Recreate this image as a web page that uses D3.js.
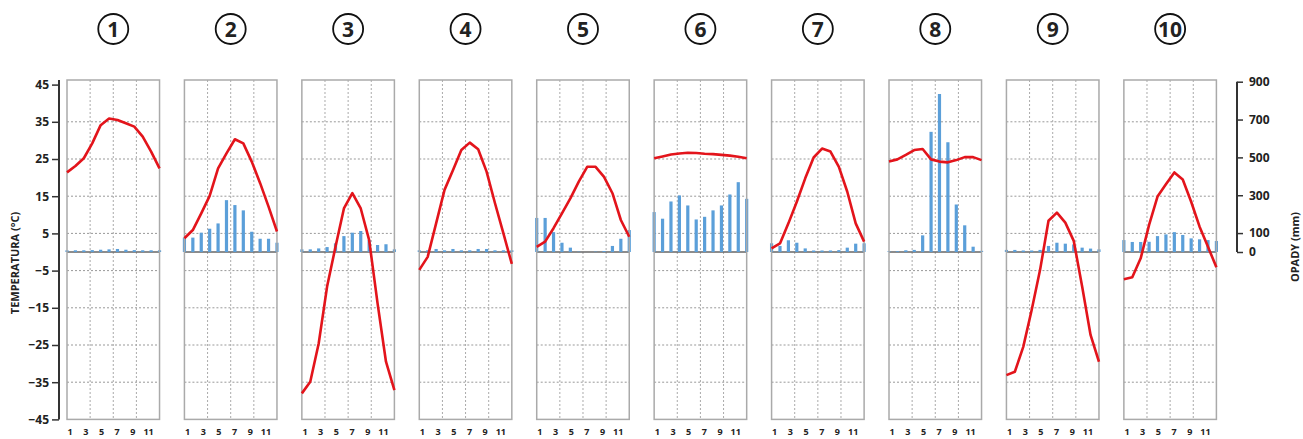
<!DOCTYPE html>
<meta charset="utf-8">
<style>
  body { margin: 0; background: #fff; }
  text { font-family: "Open Sans", "DejaVu Sans", sans-serif; font-weight: 700; fill: #222; }
</style>
<svg width="1303" height="439"></svg>
<script src="https://d3js.org/d3.v7.min.js"></script>
<script>
// climate charts, 10 stations
const panels = ["1","2","3","4","5","6","7","8","9","10"];
const months = [1,2,3,4,5,6,7,8,9,10,11,12];
const monthTicks = [1,3,5,7,9,11];
const tempTicks = [45,35,25,15,5,-5,-15,-25,-35,-45];
const precipTicks = [900,700,500,300,100,0];

// monthly mean temperature (°C)
const temperature = [
  [21.4, 23.1, 25.2, 29.2, 34.1, 35.9, 35.5, 34.6, 33.7, 31.0, 27.0, 22.5],
  [3.7, 5.9, 10.4, 15.1, 22.5, 26.5, 30.3, 29.2, 24.3, 18.5, 12.2, 5.5],
  [-38.0, -34.9, -24.6, -9.3, 1.4, 11.7, 15.8, 11.7, 3.2, -13.8, -29.5, -37.1],
  [-4.8, -1.3, 7.7, 16.7, 22.0, 27.4, 29.4, 27.6, 21.6, 13.1, 5.0, -3.2],
  [1.4, 2.8, 6.4, 10.4, 14.4, 18.9, 22.9, 22.9, 20.2, 15.8, 8.6, 4.1],
  [25.2, 25.7, 26.2, 26.5, 26.7, 26.6, 26.4, 26.3, 26.1, 25.9, 25.6, 25.2],
  [1.0, 2.3, 7.7, 13.5, 19.8, 25.4, 27.8, 27.0, 22.9, 16.2, 7.7, 2.8],
  [24.3, 24.9, 26.1, 27.4, 27.7, 24.9, 24.3, 24.1, 24.7, 25.5, 25.5, 24.7],
  [-33.1, -32.2, -25.5, -15.6, -4.8, 8.4, 10.6, 7.9, 3.0, -9.3, -22.3, -29.5],
  [-7.3, -6.8, -1.7, 7.3, 14.9, 18.2, 21.4, 19.5, 13.5, 6.8, 1.4, -4.1]
];

// monthly precipitation (mm)
const precipitation = [
  [9, 9, 9, 10, 12, 14, 16, 12, 10, 9, 9, 9],
  [76, 76, 102, 123, 151, 274, 248, 220, 107, 70, 70, 49],
  [14, 14, 19, 26, 46, 84, 102, 111, 63, 37, 41, 14],
  [9, 9, 16, 9, 16, 9, 9, 16, 16, 9, 9, 9],
  [180, 180, 105, 49, 23, 2, 0, 2, 5, 32, 70, 116],
  [211, 176, 267, 299, 246, 172, 186, 220, 246, 304, 369, 281],
  [46, 32, 62, 49, 19, 8, 8, 8, 10, 23, 44, 46],
  [4, 4, 9, 11, 88, 635, 835, 580, 251, 141, 28, 6],
  [11, 11, 8, 8, 11, 32, 49, 44, 40, 23, 18, 14],
  [63, 53, 53, 54, 84, 93, 105, 90, 72, 67, 63, 58]
];

var svg = d3.select("svg");
var top0 = 80, bottom0 = 419.4;

var panelX = d3.scaleBand().domain(panels).range([67, 1216.4]).paddingInner(0.212).paddingOuter(0);
var bw = panelX.bandwidth();

var yT = d3.scaleLinear().domain([-45, 45]).range([419.4, 84.6]);
var yP = d3.scaleLinear().domain([0, 900]).range([yT(0), 81.7]);

var xData = d3.scalePoint().domain(months).range([0, bw]);
var xLabel = d3.scalePoint().domain(months).range([0, bw]).padding(0.4);

// left axis
var leftAxis = svg.append("g")
    .attr("transform", "translate(59,0)")
    .call(d3.axisLeft(yT).tickValues(tempTicks).tickSize(7).tickPadding(3));
leftAxis.select(".domain").attr("stroke", "#333").attr("stroke-width", 2).attr("d", "M0," + top0 + "V" + bottom0);
leftAxis.selectAll(".tick line").attr("stroke", "#333").attr("stroke-width", 1.5);
leftAxis.selectAll("text").style("font-size", "12px").attr("fill", "#222");

svg.append("text")
    .attr("transform", "translate(19,263) rotate(-90)")
    .attr("text-anchor", "middle")
    .style("font-size", "11px")
    .text("TEMPERATURA (°C)");

// right axis
var rightAxis = svg.append("g")
    .attr("transform", "translate(1237,0)")
    .call(d3.axisRight(yP).tickValues(precipTicks).tickSize(6).tickPadding(6));
rightAxis.select(".domain").attr("stroke", "#333").attr("stroke-width", 2).attr("d", "M0," + yP(900) + "V" + yP(0));
rightAxis.selectAll(".tick line").attr("stroke", "#333").attr("stroke-width", 1.5);
rightAxis.selectAll("text").style("font-size", "12px").attr("fill", "#222");

svg.append("text")
    .attr("transform", "translate(1299,247) rotate(-90)")
    .attr("text-anchor", "middle")
    .style("font-size", "11px")
    .text("OPADY (mm)");

var line = d3.line()
    .x(function(d, i) { return xData(months[i]); })
    .y(function(d) { return yT(d); });

panels.forEach(function(p, k) {
  var g = svg.append("g").attr("transform", "translate(" + panelX(p) + ",0)");

  // title
  g.append("circle")
      .attr("cx", bw / 2).attr("cy", 29).attr("r", 15)
      .attr("fill", "none").attr("stroke", "#111").attr("stroke-width", 1.8);
  g.append("text")
      .attr("x", bw / 2).attr("y", 36.5)
      .attr("text-anchor", "middle")
      .style("font-size", "21px")
      .attr("fill", "#111")
      .text(p);

  // grid
  g.selectAll(".hg").data(tempTicks.filter(function(t) { return t > -45 && t < 45; }))
    .enter().append("line")
      .attr("x1", 0).attr("x2", bw)
      .attr("y1", function(d) { return yT(d); }).attr("y2", function(d) { return yT(d); })
      .attr("stroke", "#999").attr("stroke-width", 1).attr("stroke-dasharray", "2,2");
  g.selectAll(".vg").data([0.25, 0.5, 0.75])
    .enter().append("line")
      .attr("x1", function(d) { return d * bw; }).attr("x2", function(d) { return d * bw; })
      .attr("y1", top0).attr("y2", bottom0)
      .attr("stroke", "#aaa").attr("stroke-width", 1).attr("stroke-dasharray", "2,2");

  // zero line
  g.append("line")
      .attr("x1", 0).attr("x2", bw)
      .attr("y1", yT(0)).attr("y2", yT(0))
      .attr("stroke", "#666").attr("stroke-width", 1.5);

  // precipitation bars
  g.selectAll(".bar").data(precipitation[k])
    .enter().append("rect")
      .attr("x", function(d, i) { return xData(months[i]) - 1.6; })
      .attr("width", 3.2)
      .attr("y", function(d) { return yP(d); })
      .attr("height", function(d) { return yP(0) - yP(d); })
      .attr("fill", "#5b9fd9");

  // frame
  g.append("rect")
      .attr("x", 0).attr("y", top0).attr("width", bw).attr("height", bottom0 - top0)
      .attr("fill", "none").attr("stroke", "#aaa").attr("stroke-width", 1.5);

  // temperature
  g.append("path")
      .datum(temperature[k])
      .attr("d", line)
      .attr("fill", "none")
      .attr("stroke", "#e3141b")
      .attr("stroke-width", 2.6)
      .attr("stroke-linejoin", "round");

  // month labels
  g.selectAll(".ml").data(monthTicks)
    .enter().append("text")
      .attr("x", function(d) { return xLabel(d); })
      .attr("y", 435)
      .attr("text-anchor", "middle")
      .style("font-size", "9px")
      .text(function(d) { return d; });
});
</script>
